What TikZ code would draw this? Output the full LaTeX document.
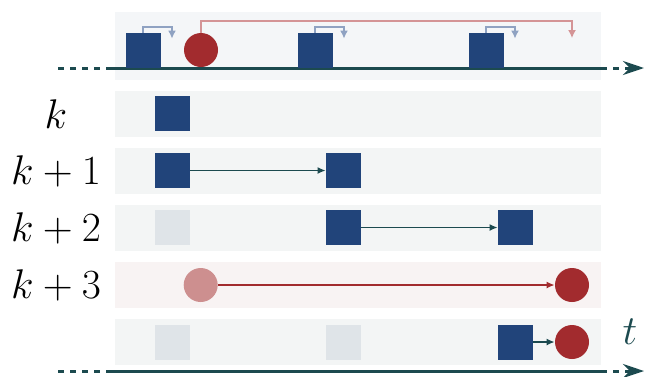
\documentclass[tikz,border=0pt]{standalone}
\usetikzlibrary{arrows.meta}

\definecolor{navy}{HTML}{21447A}
\definecolor{brick}{HTML}{A22B2E}
\definecolor{rose}{HTML}{CD8F8F}
\definecolor{mist}{HTML}{DFE4E8}
\definecolor{teal}{HTML}{1C4A4F}
\definecolor{laneg}{HTML}{F3F5F5}
\definecolor{lanep}{HTML}{F8F3F3}
\definecolor{laneb}{HTML}{F4F6F8}
\definecolor{hopb}{HTML}{8FA2C2}
\definecolor{hopr}{HTML}{D49496}

\tikzset{
  blk/.style={draw=none, fill=navy, minimum size=17.5pt, inner sep=0pt},
  ghost/.style={blk, fill=mist},
  evt/.style={circle, fill=brick, minimum size=17pt, inner sep=0pt},
  faded/.style={evt, fill=rose},
  lbl/.style={font=\huge, inner sep=0pt},
  link/.style={teal, line width=0.7pt, -{Latex[length=4pt,width=3.5pt]}},
  hop/.style={line width=0.9pt, -{Latex[length=4pt,width=4pt]}},
  axis/.style={teal, line width=1.5pt},
  axisdots/.style={axis, dash pattern=on 3pt off 3pt},
}

\begin{document}
\begin{tikzpicture}[x=0.5pt, y=-0.5pt]
  \useasboundingbox (0,0) rectangle (646,376);
  % lanes
  \fill[laneb] (115,12) rectangle (601,80);
  \foreach \y/\c in {91/laneg, 148/laneg, 205/laneg, 262/lanep, 319/laneg}
      \fill[\c] (115,\y) rectangle (601,\y+46);
  % top time line
  \coordinate (ta) at (58,68);
  \coordinate (tb) at (108,68);
  \coordinate (tc) at (601,68);
  \coordinate (td) at (644,68);
  \draw[axisdots] (ta) -- (tb);
  \draw[axis] (tb) -- (tc);
  \draw[axisdots, -{Stealth[length=10.5pt,width=7pt]}] (tc) -- (td);
  % events on the top line
  \node[blk] (s1) at (143,50.5) {};
  \node[evt] (e0) at (201,50) {};
  \node[blk] (s2) at (315,50.5) {};
  \node[blk] (s3) at (486,50.5) {};
  \foreach \n in {s1,s2,s3}
      \draw[hop, hopb] (\n.north) -- ++(0,-6) -- ++(29,0) -- ++(0,12);
  \draw[hop, hopr] (e0.north) -- ++(0,-11.5) -- ++(371,0) -- ++(0,17);
  % row labels
  \node[lbl] (l0) at (56,114) {$k$};
  \node[lbl] (l1) at (56,171) {$k+1$};
  \node[lbl] (l2) at (56,228) {$k+2$};
  \node[lbl] (l3) at (56,285) {$k+3$};
  % row k
  \node[blk] (a1) at (172.5,113.5) {};
  % row k+1
  \node[blk] (b1) at (172.5,170.5) {};
  \node[blk] (b2) at (343.5,170.5) {};
  \draw[link] (b1) -- (b2);
  % row k+2
  \node[ghost] (c1) at (172.5,227.5) {};
  \node[blk] (c2) at (343.5,227.5) {};
  \node[blk] (c3) at (515.5,227.5) {};
  \draw[link] (c2) -- (c3);
  % row k+3
  \node[faded] (d1) at (200.7,285) {};
  \node[evt] (d2) at (572,285) {};
  \draw[link, brick] (d1) -- (d2);
  % last row
  \node[ghost] (f1) at (172.5,342) {};
  \node[ghost] (f2) at (343.5,342) {};
  \node[blk] (f3) at (515.5,342) {};
  \node[evt] (f4) at (572,342) {};
  \draw[link] (f3) -- (f4);
  % bottom time line
  \coordinate (ba) at (58,371);
  \coordinate (bb) at (108,371);
  \coordinate (bc) at (601,371);
  \coordinate (bd) at (644,371);
  \draw[axisdots] (ba) -- (bb);
  \draw[axis] (bb) -- (bc);
  \draw[axisdots, -{Stealth[length=10.5pt,width=7pt]}] (bc) -- (bd);
  \node[font=\huge, text=teal, inner sep=0pt] (t) at (630,332) {$t$};
\end{tikzpicture}
\end{document}
